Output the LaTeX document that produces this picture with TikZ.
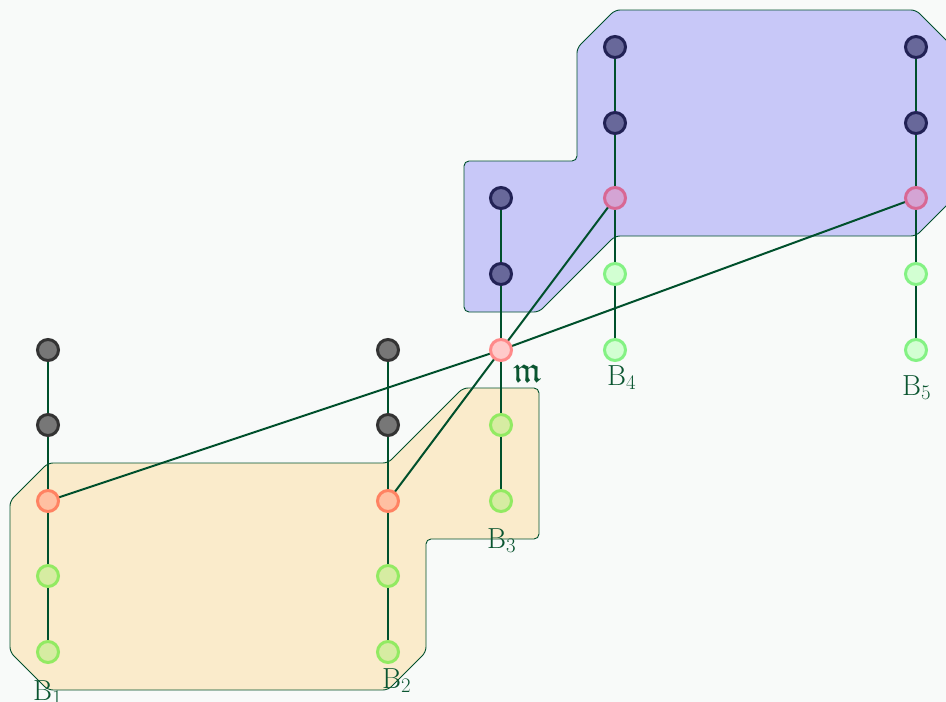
\documentclass[tikz,border=0pt]{standalone}
\usepackage{amssymb}
\usetikzlibrary{backgrounds}
\begin{document}
\begin{tikzpicture}[x=1pt,y=-1pt,
  vtx/.style={circle,minimum size=21pt,inner sep=0pt,line width=3pt},
  gry/.style={vtx,fill=ngrayf,draw=ngrayd},
  sal/.style={vtx,fill=nsalf,draw=nsald},
  lgr/.style={vtx,fill=nlgrf,draw=nlgrd},
  nav/.style={vtx,fill=nnavf,draw=nnavd},
  mau/.style={vtx,fill=nmauf,draw=nmaud},
  pnk/.style={vtx,fill=npnkf,draw=npnkd},
  pgr/.style={vtx,fill=npgrf,draw=npgrd},
  conn/.style={draw=edgec,line width=2pt},
  region/.style={draw=edgec,line width=0.9pt,rounded corners=5pt},
  lbl/.style={text=labc,font=\fontsize{29}{34}\selectfont,inner sep=0pt,anchor=base west}]
\definecolor{bgc}{HTML}{F8FAF9}
\definecolor{edgec}{HTML}{00502C}
\definecolor{labc}{HTML}{0A5530}
\definecolor{ngrayf}{HTML}{777777}\definecolor{ngrayd}{HTML}{333333}
\definecolor{nsalf}{HTML}{FFC0A2}\definecolor{nsald}{HTML}{FF8262}
\definecolor{nlgrf}{HTML}{D6ECA2}\definecolor{nlgrd}{HTML}{92EA62}
\definecolor{nnavf}{HTML}{68689A}\definecolor{nnavd}{HTML}{222255}
\definecolor{nmauf}{HTML}{D4A4D4}\definecolor{nmaud}{HTML}{D86894}
\definecolor{npnkf}{HTML}{FFCACA}\definecolor{npnkd}{HTML}{FF8A8A}
\definecolor{npgrf}{HTML}{D2FFD2}\definecolor{npgrd}{HTML}{84F284}
\definecolor{tanf}{HTML}{FAEBCB}
\definecolor{bluf}{HTML}{C8C8F8}
\useasboundingbox (0,0) rectangle (946,702);
% nodes
\node[gry] (a1) at (48,350) {};
\node[gry] (a2) at (48,425) {};
\node[sal] (a3) at (48,501) {};
\node[lgr] (a4) at (48,576) {};
\node[lgr] (a5) at (48,652) {};
\node[gry] (b1) at (388,350) {};
\node[gry] (b2) at (388,425) {};
\node[sal] (b3) at (388,501) {};
\node[lgr] (b4) at (388,576) {};
\node[lgr] (b5) at (388,652) {};
\node[nav] (c1) at (501,198) {};
\node[nav] (c2) at (501,274) {};
\node[pnk] (m) at (501,350) {};
\node[lgr] (c4) at (501,425) {};
\node[lgr] (c5) at (501,501) {};
\node[nav] (d1) at (615,47) {};
\node[nav] (d2) at (615,123) {};
\node[mau] (d3) at (615,198) {};
\node[pgr] (d4) at (615,274) {};
\node[pgr] (d5) at (615,350) {};
\node[nav] (e1) at (916,47) {};
\node[nav] (e2) at (916,123) {};
\node[mau] (e3) at (916,198) {};
\node[pgr] (e4) at (916,274) {};
\node[pgr] (e5) at (916,350) {};
% labels
\node[lbl] (l1) at (33,700) {B$_1$};
\node[lbl] (l2) at (382,688) {B$_2$};
\node[lbl] (l3) at (487,548) {B$_3$};
\node[lbl] (l4) at (607,385) {B$_4$};
\node[lbl] (l5) at (902,395) {B$_5$};
\node[lbl,font=\fontsize{37}{40}\selectfont] (lm) at (513,382) {$\mathfrak{m}$};
\begin{scope}[on background layer]
\fill[bgc] (0,0) rectangle (946,702);
% regions
\path[region,fill=tanf] (48,463) -- (388,463) -- (463,388) -- (539,388) -- (539,539) -- (426,539) -- (426,652) -- (388,690) -- (48,690) -- (10,652) -- (10,501) -- cycle;
\path[region,fill=bluf] (615,10) -- (916,10) -- (954,48) -- (954,198) -- (916,236) -- (615,236) -- (539,312) -- (464,312) -- (464,161) -- (577,161) -- (577,48) -- cycle;
% connectors
\path[conn] (a1) -- (a2) -- (a3) -- (a4) -- (a5);
\path[conn] (b1) -- (b2) -- (b3) -- (b4) -- (b5);
\path[conn] (c1) -- (c2) -- (m) -- (c4) -- (c5);
\path[conn] (d1) -- (d2) -- (d3) -- (d4) -- (d5);
\path[conn] (e1) -- (e2) -- (e3) -- (e4) -- (e5);
\path[conn] (m.center) -- (a3.center);
\path[conn] (m.center) -- (b3.center);
\path[conn] (m.center) -- (d3.center);
\path[conn] (m.center) -- (e3.center);
\end{scope}
\end{tikzpicture}
\end{document}
